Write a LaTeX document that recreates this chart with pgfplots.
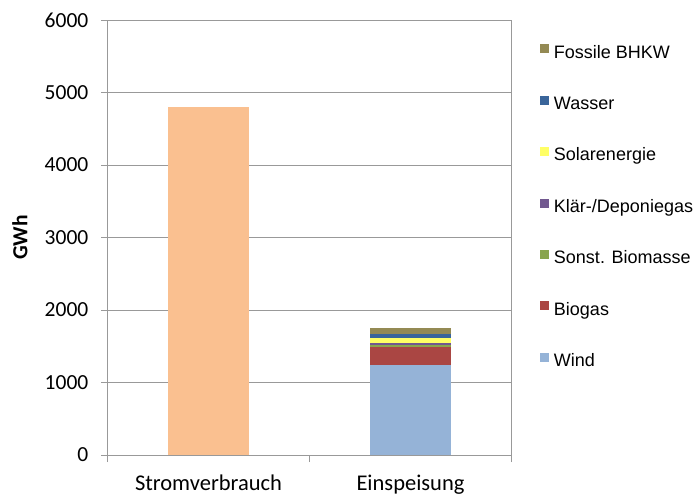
\documentclass[border=0pt]{standalone}
\usepackage{fontspec}
\setmainfont{Carlito}
\newfontfamily\arial{Liberation Sans}
\usepackage{pgfplots}
\pgfplotsset{compat=1.18}
\definecolor{cStrom}{HTML}{FAC090}
\definecolor{cWind}{HTML}{95B3D7}
\definecolor{cBiogas}{HTML}{AA4643}
\definecolor{cBiomasse}{HTML}{89A54E}
\definecolor{cKlaer}{HTML}{71588F}
\definecolor{cSolar}{HTML}{FFFF66}
\definecolor{cWasser}{HTML}{3A659A}
\definecolor{cFossil}{HTML}{948A54}
\definecolor{cAxis}{HTML}{999999}
\newcommand{\lstrut}{\rule[-4bp]{0pt}{17bp}}
\begin{document}
\begin{tikzpicture}
\path[use as bounding box] (-107.5bp,-40bp) rectangle (592.5bp,455bp);
\begin{axis}[
  at={(0,0)}, anchor=south west,
  scale only axis, width=404bp, height=435bp,
  ybar stacked, bar width=81bp,
  xmin=-0.5, xmax=1.5, ymin=0, ymax=6000,
  xtick={0,1}, xticklabels={Stromverbrauch,Einspeisung},
  minor xtick={-0.5,0.5,1.5},
  ytick={0,1000,...,6000},
  major x tick style={draw=none},
  tick pos=left,
  tick align=outside, major tick length=6bp, minor tick length=7bp,
  tick style={cAxis, line width=1bp},
  axis line style={cAxis, line width=1bp},
  ymajorgrids, grid style={cAxis, line width=1bp},
  /pgf/number format/assume math mode=true,
  /pgf/number format/1000 sep={},
  scaled y ticks=false,
  yticklabel style={font=\fontsize{21.5bp}{24bp}\selectfont, anchor=east, inner sep=0pt, xshift=-13bp},
  xticklabel style={font=\fontsize{22.5bp}{24bp}\selectfont, anchor=base, inner sep=0pt, yshift=-29.7bp},
  ylabel={\textbf{GWh}},
  ylabel style={font=\fontsize{21.5bp}{24bp}\selectfont, at={(axis description cs:-0.2166,0.5)}, anchor=center},
  reverse legend,
  legend style={at={(axis description cs:1.0705,0.9471)}, anchor=north west, draw=none, fill=none,
    inner sep=0pt, outer sep=0pt, row sep=32.9bp, column sep=3bp,
    font=\arial\fontsize{18bp}{20bp}\selectfont, cells={anchor=west}},
  legend image code/.code={\fill[#1] (0bp,-1bp) rectangle (9bp,8bp);},
]
\addplot[fill=cStrom, draw=none, forget plot] coordinates {(0,4800) (1,0)};
\addplot[fill=cWind, draw=none] coordinates {(0,0) (1,1240)};
\addlegendentry{\lstrut Wind}
\addplot[fill=cBiogas, draw=none] coordinates {(0,0) (1,254)};
\addlegendentry{\lstrut Biogas}
\addplot[fill=cBiomasse, draw=none] coordinates {(0,0) (1,28)};
\addlegendentry{\lstrut Sonst. Biomasse}
\addplot[fill=cKlaer, draw=none] coordinates {(0,0) (1,27)};
\addlegendentry{\lstrut Klär-/Deponiegas}
\addplot[fill=cSolar, draw=none] coordinates {(0,0) (1,65)};
\addlegendentry{\lstrut Solarenergie}
\addplot[fill=cWasser, draw=none] coordinates {(0,0) (1,59)};
\addlegendentry{\lstrut Wasser}
\addplot[fill=cFossil, draw=none] coordinates {(0,0) (1,79)};
\addlegendentry{\lstrut Fossile BHKW}
\end{axis}
\end{tikzpicture}
\end{document}
